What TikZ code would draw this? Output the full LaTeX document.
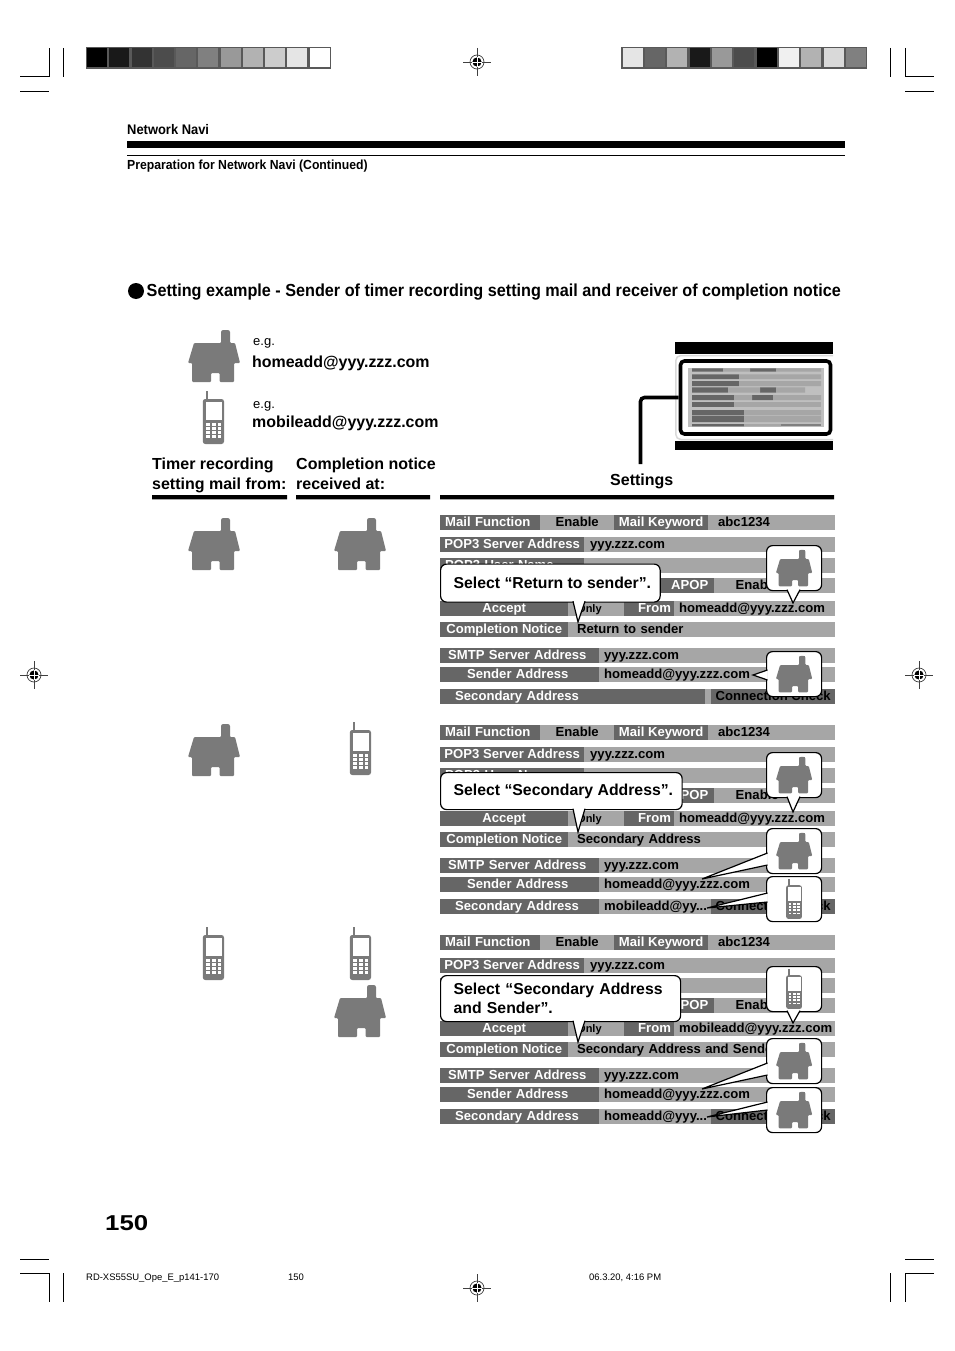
\documentclass[tikz,border=0pt]{standalone}
\usepackage{fontspec}
\setmainfont{Liberation Sans}
\newfontfamily\narrowfont[FakeStretch=0.93]{Liberation Sans}
\newfontfamily\widefont[FakeStretch=1.2]{Liberation Sans}
\definecolor{bardark}{RGB}{102,102,102}
\definecolor{barlight}{RGB}{166,166,166}
\definecolor{icongray}{RGB}{122,122,122}
\usetikzlibrary{calc}
\tikzset{
  house/.pic={
    \fill[icongray, rounded corners=1pt] (-20,-13) -- (7,-13) -- (7,-25) -- (8.5,-26) -- (14.5,-26) -- (16,-25) -- (16,-13) -- (21,-13) -- (26,7) -- (20,7) -- (20,26) -- (5.7,26) -- (5.7,17) -- (-3,17) -- (-3,26) -- (-22,26) -- (-22,7) -- (-26,7) -- cycle;
  },
  phone/.pic={
    \fill[icongray] (-7.8,-26.5) rectangle (-5.2,-17);
    \fill[icongray, rounded corners=2.5pt] (-10.7,-18.5) rectangle (10.5,26.5);
    \fill[white] (-7.7,-15.8) rectangle (8.7,2.5);
    \foreach \kx in {-7.2,-1.6,4} \foreach \ky in {5.6,9.7,13.8,17.9} \fill[white] (\kx,\ky) rectangle ++(3.6,2.5);
  },
  regmark/.pic={
    \draw[black!75, line width=0.8pt] (-14,0) -- (14,0) (0,-14) -- (0,14);
    \draw[black!75, line width=0.7pt] (0,0) circle (7);
    \fill[black] (0,0) circle (4.6);
    \draw[white, line width=0.9pt] (-5,0) -- (5,0) (0,-5) -- (0,5);
  }
}
\begin{document}
\begin{tikzpicture}[
  x=1pt, y=-1pt,
  cellbase/.style={anchor=west, inner ysep=0pt, minimum height=15pt, text height=10pt, text depth=2pt, font=\fontsize{13.1}{14}\selectfont\bfseries},
  dcell/.style={cellbase, fill=bardark, text=white, inner xsep=0pt, minimum width=#1pt},
  lmid/.style={cellbase, fill=barlight, text=black, inner xsep=0pt, minimum width=#1pt},
  lcell/.style 2 args={cellbase, fill=barlight, text=black, align=left, inner xsep=#2pt, text width=#1pt-2*#2pt},
  dleft/.style 2 args={lcell={#1}{#2}, fill=bardark, text=white},
  smallcell/.style={font=\fontsize{11}{12}\selectfont\bfseries},
  selbox/.style={draw=black, line width=1.2pt, fill=white, rounded corners=6pt, anchor=north west, inner xsep=9pt, inner ysep=0pt, align=left, font=\fontsize{15.8}{19}\selectfont\bfseries},
  iconbox/.style={draw=black, line width=1.2pt, fill=white, rounded corners=6pt, anchor=north west, inner sep=0pt, minimum width=55pt, minimum height=45pt},
  calltail/.style={draw=black, fill=white, line width=1.2pt, line join=miter},
  headline/.style={anchor=base west, inner sep=0pt},
  addr/.style={anchor=base west, inner sep=0pt, font=\fontsize{15.95}{18}\selectfont\bfseries},
  eglabel/.style={anchor=base west, inner sep=0pt, font=\fontsize{13}{15}\selectfont},
  colhead/.style={anchor=base west, inner sep=0pt, font=\fontsize{16}{20}\selectfont\bfseries},
  footlabel/.style={anchor=base west, inner sep=0pt, font=\fontsize{9.45}{11}\selectfont}
]
  \useasboundingbox (0,0) rectangle (954,1351);
  \fill[white] (0,0) rectangle (954,1351);

  %% Crop marks
  \draw[line width=0.8pt] (20,76.5) -- (49.3,76.5) -- (49.3,48) (63.3,48) -- (63.3,77) (20,91.3) -- (49,91.3);
  \draw[line width=0.8pt] (890,48) -- (890,77) (905.3,48) -- (905.3,76.5) -- (934,76.5) (905,91.3) -- (934,91.3);
  \draw[line width=0.8pt] (20,1259) -- (49,1259) (20,1273) -- (49.3,1273) -- (49.3,1302) (63.3,1273) -- (63.3,1302);
  \draw[line width=0.8pt] (905,1259) -- (934,1259) (934,1273) -- (905.3,1273) -- (905.3,1302) (890,1273) -- (890,1302);
  \pic (regt) at (477,62) {regmark};
  \pic (regb) at (477,1288) {regmark};
  \pic (regl) at (34,675) {regmark};
  \pic (regr) at (919,675) {regmark};

  %% Grey scales
  \fill[black!65] (86,47) rectangle (331,69);
  \foreach \gx/\gv in {87/100,109/90,132/80,154/70,176/60,198/50,221/40,243/30,265/20,287/10,310/0} \fill[black!\gv] (\gx,48.5) rectangle ++(20,19);
  \fill[black!65] (621,47) rectangle (867,69);
  \foreach \gx/\gv in {623/10,645/60,667/30,690/90,712/40,734/70,757/100,779/6,801/30,824/15,846/50} \fill[black!\gv] (\gx,48.5) rectangle ++(20,19);

  %% Page head
  \node[headline, font=\narrowfont\fontsize{13.9}{15}\selectfont\bfseries] (navi) at (127,134.5) {Network Navi};
  \fill[black] (127,141) rectangle (845,148.4);
  \draw[line width=0.7pt] (127,155.5) -- (845,155.5);
  \node[headline, font=\narrowfont\fontsize{13.15}{15}\selectfont\bfseries] (prep) at (127,169.5) {Preparation for Network Navi (Continued)};

  %% Title
  \node[circle, fill=black, inner sep=0pt, minimum size=16pt] (bul) at (136,291) {};
  \node[anchor=base west, inner sep=0pt, font=\narrowfont\fontsize{17.42}{20}\selectfont\bfseries] (title) at (146.5,296) {Setting example - Sender of timer recording setting mail and receiver of completion notice};

  %% Legend
  \pic (leghouse) at (214,356) {house};
  \node[eglabel] (eg1) at (253,345) {e.g.};
  \node[addr] (addr1) at (252,367) {homeadd@yyy.zzz.com};
  \pic (legphone) at (213.5,417.5) {phone};
  \node[eglabel] (eg2) at (253,408) {e.g.};
  \node[addr] (addr2) at (252,427) {mobileadd@yyy.zzz.com};

  %% Settings screen
  \fill[black] (675,342) rectangle (833,354);
  \fill[black] (675,441) rectangle (833,450);
  \draw[black!15, line width=1.5pt, rounded corners=5pt] (833,355.5) -- (675.8,355.5) -- (675.8,439.5) -- (833,439.5);
  \fill[black!25] (688,368) rectangle (824,427);
  \fill[bardark] (692,368.3) rectangle (723,371.7) (750,368.3) rectangle (776,371.7);
  \fill[barlight] (723,368.3) rectangle (750,371.7) (776,368.3) rectangle (821,371.7);
  \fill[bardark] (692,374.3) rectangle (739,379) (692,381) rectangle (739,386);
  \fill[barlight] (739,374.3) rectangle (821,379) (739,381) rectangle (821,386);
  \fill[bardark] (692,387.3) rectangle (728,392.7) (760,387.3) rectangle (776,392.7);
  \fill[barlight] (728,387.3) rectangle (760,392.7) (776,387.3) rectangle (805,392.7);
  \fill[bardark] (692,395) rectangle (734,400) (752,395) rectangle (773,400);
  \fill[barlight] (734,395) rectangle (752,400) (773,395) rectangle (821,400);
  \fill[bardark] (692,401.7) rectangle (734,407);
  \fill[barlight] (734,401.7) rectangle (821,407);
  \fill[bardark] (692,410) rectangle (744,415.3) (692,416) rectangle (744,422) (692,424) rectangle (744,426.3);
  \fill[barlight] (744,410) rectangle (821,415.3) (744,416) rectangle (821,422) (744,424) rectangle (781,426.3);
  \fill[black!50] (781,424) rectangle (821,426.3);
  \node[draw=black, line width=3.6pt, rounded corners=4pt, inner sep=0pt, minimum width=150pt, minimum height=73pt] (screen) at (755.5,397.5) {};
  \coordinate (setfoot) at (640.5,464);
  \draw[line width=3.6pt, rounded corners=4pt] (screen.west) -- (setfoot |- screen.west) -- (setfoot);
  \node[colhead] (setlab) at (610,485) {Settings};

  %% Column heads
  \node[colhead, align=left, anchor=north west] (colfrom) at (152,458) {Timer recording\\setting mail from:};
  \node[colhead, align=left, anchor=north west] (colto) at (296,458) {Completion notice\\received at:};
  \fill[black] (152,495) rectangle (287,499.3) (296,495) rectangle (430,499.3) (440,495) rectangle (834,499.3);

  %% Case icons
  \pic (ah1) at (214,544) {house};
  \pic (ah2) at (360,544) {house};
  \pic (bh1) at (214,750) {house};
  \pic (bp2) at (360.5,748.5) {phone};
  \pic (cp1) at (213.5,953.5) {phone};
  \pic (cp2) at (360.5,953.5) {phone};
  \pic (ch2) at (360,1011) {house};

  %% Panel: Return to sender
  \node[dleft={100}{5}] (amf) at (440,522.5) {Mail Function};
  \node[lmid=74] (aen) at (540,522.5) {Enable};
  \node[dcell=94] (amk) at (614,522.5) {Mail Keyword};
  \node[lcell={127}{10}] (akv) at (708,522.5) {abc1234};
  \node[dcell=144] (aps) at (440,544.5) {POP3 Server Address};
  \node[lcell={251}{6}] (apv) at (584,544.5) {yyy.zzz.com};
  \node[dleft={144}{5}] (aun) at (440,565) {POP3 User Name};
  \node[lcell={251}{6}] (auv) at (584,565) {};
  \node[dleft={54}{8}] (aap) at (660,585.5) {\hspace*{3pt}APOP};
  \node[lmid=86] (aae) at (714,585.5) {Enable};
  \node[lmid=35] (aax) at (800,585.5) {};
  \node[dcell=128] (aac) at (440,608.5) {Accept};
  \node[lcell={56}{9}, smallcell] (aon) at (568,608.5) {Only};
  \node[dleft={50}{14}] (afr) at (624,608.5) {From};
  \node[lcell={161}{5}] (afv) at (674,608.5) {homeadd@yyy.zzz.com};
  \node[dcell=128] (acn) at (440,629.5) {Completion Notice};
  \node[lcell={267}{9}] (acv) at (568,629.5) {Return to sender};
  \node[dleft={159}{8}] (asm) at (440,655) {SMTP Server Address};
  \node[lcell={236}{5}] (asv) at (599,655) {yyy.zzz.com};
  \node[dleft={159}{27}] (asd) at (440,674) {Sender Address};
  \node[lcell={236}{5}] (adv) at (599,674) {homeadd@yyy.zzz.com};
  \node[dleft={159}{15}] (asc) at (440,696) {Secondary Address};
  \node[dcell=106] (asb) at (599,696) {};
  \node[lmid=6] (asg) at (705,696) {};
  \node[dcell=124, text=black] (acc) at (711,696) {Connection Check};

  \node[selbox, minimum height=38pt] (asel) at (440,563.5) {\hspace*{4pt}Select “Return to sender”.};
  \coordinate (atip) at (578,622);
  \filldraw[calltail] ($(asel.south west)+(133,-1.5)$) -- (atip) -- ($(asel.south west)+(145,-1.5)$);
  \node[iconbox] (abox) at (766,545) {};
  \coordinate (atop) at (793,603);
  \filldraw[calltail] ($(abox.south west)+(21,-1.5)$) -- (atop) -- ($(abox.south west)+(34,-1.5)$);
  \pic[scale=0.7] (aicon) at (abox.center) {house};
  \node[iconbox] (asnd) at (766,651) {};
  \coordinate (asdt) at (753,675);
  \filldraw[calltail] ($(asnd.north west)+(1.5,19)$) -- (asdt) -- ($(asnd.north west)+(1.5,29)$);
  \pic[scale=0.7] (asi) at (asnd.center) {house};

  %% Panel: Secondary Address
  \node[dleft={100}{5}] (bmf) at (440,732.5) {Mail Function};
  \node[lmid=74] (ben) at (540,732.5) {Enable};
  \node[dcell=94] (bmk) at (614,732.5) {Mail Keyword};
  \node[lcell={127}{10}] (bkv) at (708,732.5) {abc1234};
  \node[dcell=144] (bps) at (440,754.5) {POP3 Server Address};
  \node[lcell={251}{6}] (bpv) at (584,754.5) {yyy.zzz.com};
  \node[dleft={144}{5}] (bun) at (440,775) {POP3 User Name};
  \node[lcell={251}{6}] (buv) at (584,775) {};
  \node[dleft={54}{8}] (bap) at (660,795.5) {\hspace*{3pt}APOP};
  \node[lmid=86] (bae) at (714,795.5) {Enable};
  \node[lmid=35] (bax) at (800,795.5) {};
  \node[dcell=128] (bac) at (440,818.5) {Accept};
  \node[lcell={56}{9}, smallcell] (bon) at (568,818.5) {Only};
  \node[dleft={50}{14}] (bfr) at (624,818.5) {From};
  \node[lcell={161}{5}] (bfv) at (674,818.5) {homeadd@yyy.zzz.com};
  \node[dcell=128] (bcn) at (440,839.5) {Completion Notice};
  \node[lcell={267}{9}] (bcv) at (568,839.5) {Secondary Address};
  \node[dleft={159}{8}] (bsm) at (440,865) {SMTP Server Address};
  \node[lcell={236}{5}] (bsv) at (599,865) {yyy.zzz.com};
  \node[dleft={159}{27}] (bsd) at (440,884) {Sender Address};
  \node[lcell={236}{5}] (bdv) at (599,884) {homeadd@yyy.zzz.com};
  \node[dleft={159}{15}] (bsc) at (440,906) {Secondary Address};
  \node[lcell={112}{5}] (bsb) at (599,906) {\mbox{mobileadd@yy...}};
  \node[dcell=124, text=black] (bcc) at (711,906) {Connection Check};

  \node[selbox, minimum height=37pt] (bsel) at (440,772) {\hspace*{4pt}Select “Secondary Address”.};
  \coordinate (btip) at (578,832);
  \filldraw[calltail] ($(bsel.south west)+(133,-1.5)$) -- (btip) -- ($(bsel.south west)+(145,-1.5)$);
  \node[iconbox] (bbox) at (766,752) {};
  \coordinate (btop) at (793,812);
  \filldraw[calltail] ($(bbox.south west)+(21,-1.5)$) -- (btop) -- ($(bbox.south west)+(34,-1.5)$);
  \pic[scale=0.7] (bicon) at (bbox.center) {house};
  \node[iconbox] (bsnd) at (766,828) {};
  \coordinate (bsdt) at (702,879);
  \filldraw[calltail] ($(bsnd.north west)+(1.5,25)$) -- (bsdt) -- ($(bsnd.north west)+(1.5,37)$);
  \pic[scale=0.7] (bsi) at (bsnd.center) {house};
  \node[iconbox] (bsec) at (766,876) {};
  \coordinate (bsct) at (707,908);
  \filldraw[calltail] ($(bsec.north west)+(1.5,17)$) -- (bsct) -- ($(bsec.north west)+(1.5,26)$);
  \pic[scale=0.75] (bpi) at (bsec.center) {phone};

  %% Panel: Secondary Address and Sender
  \node[dleft={100}{5}] (cmf) at (440,942.5) {Mail Function};
  \node[lmid=74] (cen) at (540,942.5) {Enable};
  \node[dcell=94] (cmk) at (614,942.5) {Mail Keyword};
  \node[lcell={127}{10}] (ckv) at (708,942.5) {abc1234};
  \node[dcell=144] (cps) at (440,965) {POP3 Server Address};
  \node[lcell={251}{6}] (cpv) at (584,965) {yyy.zzz.com};
  \node[dleft={144}{5}] (cun) at (440,985) {};
  \node[lcell={251}{6}] (cuv) at (584,985) {};
  \node[dleft={54}{8}] (cap) at (660,1005.5) {\hspace*{3pt}APOP};
  \node[lmid=86] (cae) at (714,1005.5) {Enable};
  \node[lmid=35] (cax) at (800,1005.5) {};
  \node[dcell=128] (cac) at (440,1028.5) {Accept};
  \node[lcell={56}{9}, smallcell] (con) at (568,1028.5) {Only};
  \node[dleft={50}{14}] (cfr) at (624,1028.5) {From};
  \node[lcell={161}{5}] (cfv) at (674,1028.5) {\mbox{mobileadd@yyy.zzz.com}};
  \node[dcell=128] (ccn) at (440,1049.5) {Completion Notice};
  \node[lcell={267}{9}] (ccv) at (568,1049.5) {Secondary Address and Sender};
  \node[dleft={159}{8}] (csm) at (440,1075) {SMTP Server Address};
  \node[lcell={236}{5}] (csv) at (599,1075) {yyy.zzz.com};
  \node[dleft={159}{27}] (csd) at (440,1094) {Sender Address};
  \node[lcell={236}{5}] (cdv) at (599,1094) {homeadd@yyy.zzz.com};
  \node[dleft={159}{15}] (csc) at (440,1116) {Secondary Address};
  \node[lcell={112}{5}] (csb) at (599,1116) {\mbox{homeadd@yyy...}};
  \node[dcell=124, text=black] (ccc) at (711,1116) {Connection Check};

  \node[selbox, minimum height=46pt, text width=222pt] (csel) at (440,975) {\hspace*{4pt}Select “Secondary Address\\\hspace*{4pt}and Sender”.};
  \coordinate (ctip) at (578,1042);
  \filldraw[calltail] ($(csel.south west)+(133,-1.5)$) -- (ctip) -- ($(csel.south west)+(145,-1.5)$);
  \node[iconbox] (cbox) at (766,966) {};
  \coordinate (ctop) at (793,1023);
  \filldraw[calltail] ($(cbox.south west)+(21,-1.5)$) -- (ctop) -- ($(cbox.south west)+(34,-1.5)$);
  \pic[scale=0.75] (cicon) at (cbox.center) {phone};
  \node[iconbox] (csnd) at (766,1038) {};
  \coordinate (csdt) at (702,1089);
  \filldraw[calltail] ($(csnd.north west)+(1.5,25)$) -- (csdt) -- ($(csnd.north west)+(1.5,37)$);
  \pic[scale=0.7] (csi) at (csnd.center) {house};
  \node[iconbox] (csec) at (766,1087) {};
  \coordinate (csct) at (707,1117);
  \filldraw[calltail] ($(csec.north west)+(1.5,15)$) -- (csct) -- ($(csec.north west)+(1.5,23)$);
  \pic[scale=0.7] (chi) at (csec.center) {house};

  %% Page foot
  \node[anchor=base west, inner sep=0pt, font=\widefont\fontsize{21.5}{24}\selectfont\bfseries] (pageno) at (105,1230) {150};
  \node[footlabel] (foota) at (86,1280) {RD-XS55SU\_Ope\_E\_p141-170};
  \node[footlabel] (footb) at (288,1280) {150};
  \node[footlabel] (footc) at (589,1280) {06.3.20, 4:16 PM};
\end{tikzpicture}
\end{document}
